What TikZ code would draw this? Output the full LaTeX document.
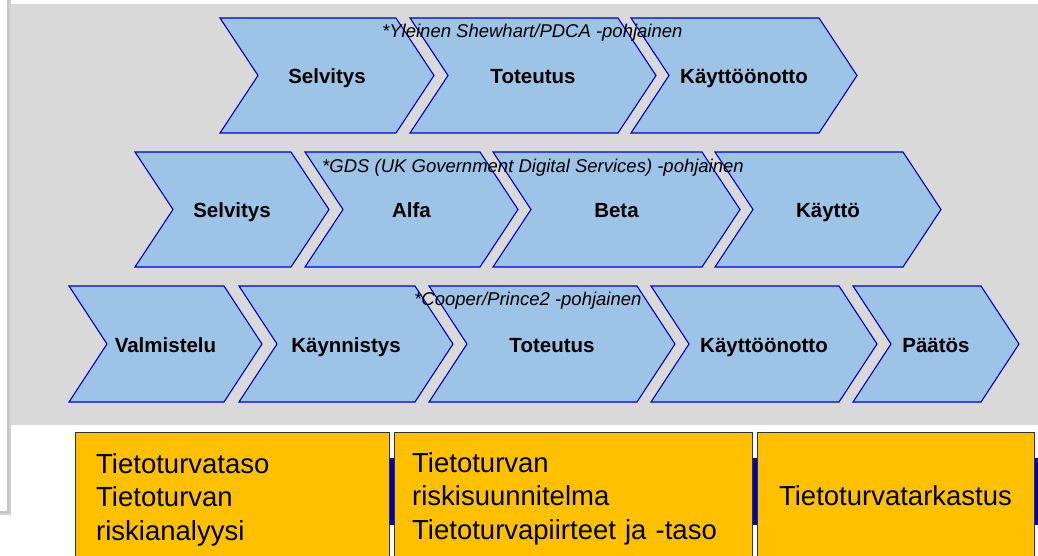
\documentclass[tikz,border=0pt]{standalone}
\usepackage{fontspec}
\setmainfont{Liberation Sans}
\definecolor{panel}{HTML}{D9D9D9}
\definecolor{chevfill}{HTML}{9DC3E6}
\definecolor{chevline}{HTML}{0000CC}
\definecolor{boxfill}{HTML}{FFC000}
\definecolor{barblue}{HTML}{0000C0}
\definecolor{framegray}{HTML}{C4C4C4}
\tikzset{
  chevshape/.style={fill=chevfill, draw=chevline, line width=1.1pt, line join=miter},
  chevtext/.style={font=\fontsize{20.5}{24}\selectfont\bfseries, inner sep=0pt, anchor=base},
  rowlabel/.style={font=\fontsize{18.5}{22}\selectfont\itshape, inner sep=0pt, anchor=base west},
  orangebox/.style={fill=boxfill, draw=black!80, line width=0.8pt},
  boxtext/.style={font=\fontsize{27.5}{33.5}\selectfont, inner sep=0pt, align=left, text width=340pt, anchor=base west}
}
% #1 left x, #2 top-right x, #3 top y, #4 bottom y, #5 name, #6 text
\newcommand\chevron[6]{%
  \draw[chevshape] (#1,#3) -- (#2,#3) -- ({#2+38},{(#3+#4)/2}) -- (#2,#4) -- (#1,#4) -- ({#1+38},{(#3+#4)/2}) -- cycle;
  \node[chevtext] (#5) at ({(#1+#2+38)/2},{(#3+#4)/2+8}) {#6};}
\begin{document}
\begin{tikzpicture}[x=1pt,y=-1pt]
\useasboundingbox (0,0) rectangle (1038,556);
\fill[white] (0,0) rectangle (1038,556);
% gray panel
\fill[panel] (9,4) rectangle (1038,425);
% left frame with shadow
\draw[black!18, line width=2pt] (10,-5) -- (10,514) -- (-5,514);
\draw[framegray, line width=1.4pt] (8,-5) -- (8,512) -- (-5,512);
% row 1
\chevron{220}{396}{18}{133}{a1}{Selvitys}
\chevron{410}{618}{18}{133}{a2}{Toteutus}
\chevron{631}{819}{18}{133}{a3}{Käyttöönotto}
\node[rowlabel] (la) at (382,38) {*Yleinen Shewhart/PDCA -pohjainen};
% row 2
\chevron{135}{291}{152}{267}{b1}{Selvitys}
\chevron{305}{480}{152}{267}{b2}{Alfa}
\chevron{493}{702}{152}{267}{b3}{Beta}
\chevron{715}{903}{152}{267}{b4}{Käyttö}
\node[rowlabel] (lb) at (322,173) {*GDS (UK Government Digital Services) -pohjainen};
% row 3
\chevron{69}{224}{286}{402}{c1}{Valmistelu}
\chevron{239}{415}{286}{402}{c2}{Käynnistys}
\chevron{429}{637}{286}{402}{c3}{Toteutus}
\chevron{651}{839}{286}{402}{c4}{Käyttöönotto}
\chevron{853}{981}{286}{402}{c5}{Päätös}
\node[rowlabel] (lc) at (414,305) {*Cooper/Prince2 -pohjainen};
% blue bar behind the boxes
\fill[barblue] (120,458) rectangle (1040,525);
% orange boxes
\draw[orangebox] (75,432) rectangle (389,562);
\draw[orangebox] (394,432) rectangle (752,562);
\draw[orangebox] (757,432) rectangle (1034,562);
\node[boxtext] (t1) at (96,473) {Tietoturvataso\\Tietoturvan\\riskianalyysi};
\node[boxtext] (t2) at (412,472) {Tietoturvan\\riskisuunnitelma\\Tietoturvapiirteet ja -taso};
\node[font=\fontsize{27.5}{33.5}\selectfont, inner sep=0pt, anchor=base] (t3) at (895.5,505) {Tietoturvatarkastus};
\end{tikzpicture}
\end{document}
